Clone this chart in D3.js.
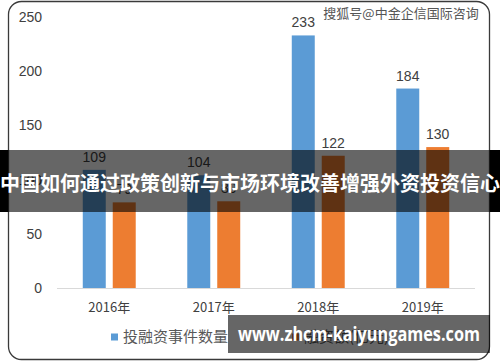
<!DOCTYPE html>
<html>
<head>
<meta charset="utf-8">
<script src="https://cdn.jsdelivr.net/npm/d3@7"></script>
<style>
  body { margin: 0; background: #fff; }
  svg { display: block; }
</style>
</head>
<body>
<svg width="500" height="362"></svg>
<script>
// data
var years = ["2016年", "2017年", "2018年", "2019年"];
var seriesNames = ["投融资事件数量", "融资额(亿元)"];
var eventCounts = [109, 104, 233, 184];
var amounts = [79, 80, 122, 130];
var yTicks = [0, 50, 100, 150, 200, 250];
var colors = ["#5b9bd5", "#ed7d31"];

var svg = d3.select("svg"),
    font = "'Noto Sans CJK SC', 'Liberation Sans', sans-serif";

// card frame
svg.append("rect")
    .attr("x", 8.5).attr("y", 1.5)
    .attr("width", 481).attr("height", 358)
    .attr("rx", 13).attr("ry", 13)
    .attr("fill", "#fff")
    .attr("stroke", "#3a3a3a")
    .attr("stroke-width", 1.3);

var x = d3.scaleBand().domain(years).range([57, 475]);
var x1 = d3.scaleBand().domain(d3.range(2))
    .range([0, x.bandwidth()])
    .paddingInner(0.233).paddingOuter(0.86);
var y = d3.scaleLinear().domain([0, 250]).range([288, 17]);

var rows = years.map(function(d, i) { return {year: d, values: [eventCounts[i], amounts[i]]}; });

// y labels, no gridlines
svg.append("g")
    .attr("font-family", "'Liberation Sans', sans-serif")
    .attr("font-size", 14)
    .attr("fill", "#404040")
    .attr("text-anchor", "end")
  .selectAll("text")
  .data(yTicks)
  .enter().append("text")
    .attr("x", 42)
    .attr("y", function(d) { return y(d); })
    .attr("dy", "0.35em")
    .text(function(d) { return d; });

// bars
var group = svg.append("g").selectAll("g")
  .data(rows)
  .enter().append("g")
    .attr("transform", function(d) { return "translate(" + x(d.year) + ",0)"; });

group.selectAll("rect")
  .data(function(d) { return d.values; })
  .enter().append("rect")
    .attr("x", function(d, i) { return x1(i); })
    .attr("y", function(d) { return y(d); })
    .attr("width", x1.bandwidth())
    .attr("height", function(d) { return y(0) - y(d); })
    .attr("fill", function(d, i) { return colors[i]; });

group.selectAll("text")
  .data(function(d) { return d.values; })
  .enter().append("text")
    .attr("x", function(d, i) { return x1(i) + x1.bandwidth() / 2; })
    .attr("y", function(d) { return y(d) - 8; })
    .attr("text-anchor", "middle")
    .attr("font-family", "'Liberation Sans', sans-serif")
    .attr("font-size", 14)
    .attr("fill", "#404040")
    .text(function(d) { return d; });

// x axis line and labels
svg.append("line")
    .attr("x1", 57).attr("x2", 475)
    .attr("y1", y(0) + 0.5).attr("y2", y(0) + 0.5)
    .attr("stroke", "#d9d9d9");

svg.append("g")
    .attr("font-family", font)
    .attr("font-size", 13)
    .attr("fill", "#404040")
    .attr("text-anchor", "middle")
  .selectAll("text")
  .data(years)
  .enter().append("text")
    .attr("x", function(d) { return x(d) + x.bandwidth() / 2; })
    .attr("y", 312)
    .text(function(d) { return d; });

// legend
var legend = svg.append("g")
    .attr("font-family", font)
    .attr("font-size", 15)
    .attr("fill", "#595959")
  .selectAll("g")
  .data(seriesNames)
  .enter().append("g")
    .attr("transform", function(d, i) { return "translate(" + (111 + i * 181) + ",337)"; });

legend.append("rect")
    .attr("x", 0).attr("y", -3.5)
    .attr("width", 7).attr("height", 7)
    .attr("fill", function(d, i) { return colors[i]; });

legend.append("text")
    .attr("x", 12)
    .attr("dy", "0.35em")
    .text(function(d) { return d; });

// watermark
svg.append("text")
    .attr("x", 401).attr("y", 18)
    .attr("text-anchor", "middle")
    .attr("font-family", font)
    .attr("font-size", 13)
    .attr("fill", "#555")
    .attr("stroke", "#fff")
    .attr("stroke-width", 0.6)
    .attr("paint-order", "stroke")
    .text("搜狐号@中金企信国际咨询");

// title banner across the middle
svg.append("rect")
    .attr("x", 0).attr("y", 150)
    .attr("width", 500).attr("height", 62)
    .attr("fill", "#000")
    .attr("fill-opacity", 0.6);
svg.append("rect").attr("x", 0).attr("y", 150).attr("width", 8).attr("height", 62).attr("fill", "#000");
svg.append("rect").attr("x", 490).attr("y", 150).attr("width", 10).attr("height", 62).attr("fill", "#000");

svg.append("text")
    .attr("x", 250).attr("y", 184)
    .attr("dy", "0.35em")
    .attr("text-anchor", "middle")
    .attr("font-family", font)
    .attr("font-weight", "bold")
    .attr("font-size", 20)
    .attr("fill", "#fff")
    .attr("textLength", 500)
    .attr("lengthAdjust", "spacingAndGlyphs")
    .text("中国如何通过政策创新与市场环境改善增强外资投资信心");

// url banner bottom right
svg.append("rect")
    .attr("x", 228).attr("y", 315)
    .attr("width", 262).attr("height", 38)
    .attr("fill", "#000")
    .attr("fill-opacity", 0.6);

svg.append("text")
    .attr("x", 359).attr("y", 334)
    .attr("dy", "0.35em")
    .attr("text-anchor", "middle")
    .attr("font-family", "'Open Sans', 'DejaVu Sans', sans-serif")
    .attr("font-weight", "bold")
    .attr("font-size", 19)
    .attr("fill", "#fff")
    .attr("textLength", 242)
    .attr("lengthAdjust", "spacingAndGlyphs")
    .text("www.zhcm-kaiyungames.com");
</script>
</body>
</html>
